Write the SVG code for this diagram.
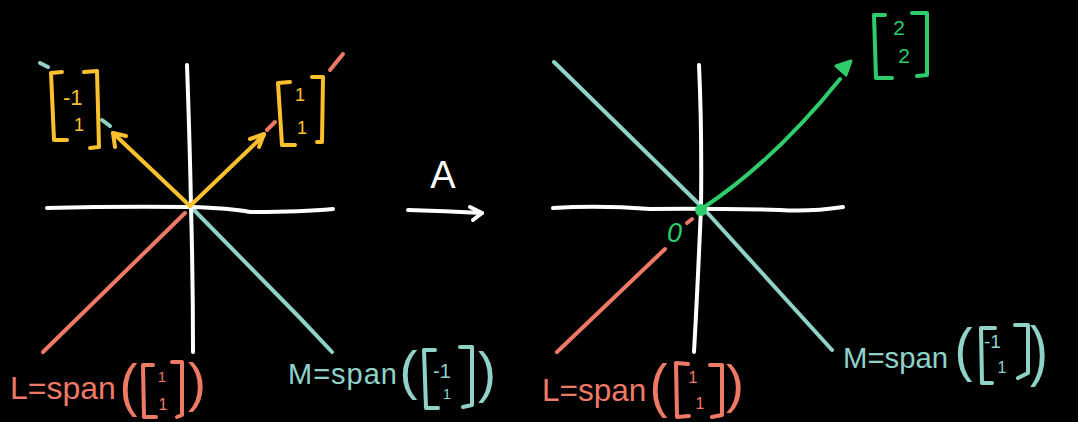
<svg xmlns="http://www.w3.org/2000/svg" width="1078" height="422" viewBox="0 0 1078 422">
<style>
.s{fill:none;stroke-linecap:round;stroke-linejoin:round;stroke-width:4}
.w{stroke:#ffffff}
.y{stroke:#fbc02d}
.r{stroke:#ee7a66}
.t{stroke:#8fd3c8}
.g{stroke:#2ecc6b}
.tx{font-family:"Liberation Sans","DejaVu Sans",sans-serif}
.p{font-family:"Liberation Sans","DejaVu Sans",sans-serif;font-size:40px}
.fy{fill:#fbc02d}.fr{fill:#ee7a66}.ft{fill:#8fd3c8}.fg{fill:#2ecc6b}.fw{fill:#ffffff}
</style>
<rect width="1078" height="422" fill="#000"/>

<g id="left-plot">
  <path class="s r" d="M185,213 L43,352"/>
  <path class="s r" d="M267,130 L275,122 M330,70 L343,54"/>
  <path class="s t" d="M193,209 L300,318 L332,352"/>
  <path class="s t" d="M40,63 L48,67 M102,120 L110,126"/>
  <path class="s w" d="M47,208 Q120,206 190,207 Q230,208 250,212 Q300,212 333,209"/>
  <path class="s w" d="M187,65 Q190,150 191,207 Q193,280 193,352"/>
</g>

<g id="right-plot">
  <path class="s t" d="M554,62 L703,208 L832,350"/>
  <path class="s r" d="M665,249 L557,352"/>
  <path class="s r" d="M687,223 L692,219"/>
  <path class="s w" d="M553,208 Q600,205 650,209 Q700,208 780,210 Q810,212 843,207"/>
  <path class="s w" d="M699,65 Q702,130 701,208 Q697,300 694,352"/>
  <circle cx="701" cy="210" r="6" class="fg"/>
</g>

<g id="connectors">
  <g id="vec-neg">
    <path class="s y" d="M190,206 L113,133"/>
    <path class="s y" d="M115,147 L113,133 L126,136"/>
  </g>
  <g id="vec-pos">
    <path class="s y" d="M190,206 L264,135"/>
    <path class="s y" d="M250,139 L264,134 L259,147"/>
  </g>
  <g id="map-A">
    <path class="s w" d="M408,210 Q445,211 482,213"/>
    <path class="s w" d="M470,207 L482,213 L473,220"/>
  </g>
  <g id="vec-image">
    <path class="s g" d="M703,208 Q775,160 840,79"/>
    <path class="g fg" stroke-width="3" stroke-linejoin="round" d="M836,66 L851,61 L846,75 Z"/>
  </g>
</g>

<g id="matrix-neg">
  <path class="s y" d="M62,72 L51,73 L54,140 L67,140"/>
  <path class="s y" d="M84,72 L97,71 L99,147 L90,148"/>
  <text class="tx fy" x="63" y="105" font-size="22">-1</text>
  <text class="tx fy" x="79" y="131" font-size="18" text-anchor="middle">1</text>
</g>

<g id="matrix-pos">
  <path class="s y" d="M290,82 L278,83 L282,145 L295,145"/>
  <path class="s y" d="M312,77 L323,77 L322,142 L317,142"/>
  <text class="tx fy" x="300" y="101" font-size="18" text-anchor="middle">1</text>
  <text class="tx fy" x="302" y="134" font-size="18" text-anchor="middle">1</text>
</g>

<g id="matrix-image">
  <path class="s g" d="M885,15 L874,15 L876,78 L892,78"/>
  <path class="s g" d="M912,13 L927,13 L927,75 L917,76"/>
  <text class="tx fg" x="899" y="35" font-size="21" text-anchor="middle">2</text>
  <text class="tx fg" x="904" y="63" font-size="21" text-anchor="middle">2</text>
</g>

<g id="label-A">
  <text class="tx fw" x="443" y="188" font-size="38" text-anchor="middle">A</text>
</g>

<g id="label-zero">
  <text class="tx fg" x="667" y="242" font-size="27" font-style="italic">0</text>
</g>

<g id="label-L-left">
  <text class="tx fr" x="10" y="399" font-size="32">L=span</text>
  <text class="p fr" transform="translate(119.5,405) scale(1.35,1.44)">(</text>
  <path class="s r" d="M153,365 L143,365 L144,417 L156,417"/>
  <text class="tx fr" x="162" y="382" font-size="15" text-anchor="middle">1</text>
  <text class="tx fr" x="163" y="410" font-size="16" text-anchor="middle">1</text>
  <path class="s r" d="M172,362 L182,362 L182,415 L177,417"/>
  <text class="p fr" transform="translate(188,400.5) scale(1.35,1.33)">)</text>
</g>

<g id="label-M-left">
  <text class="tx ft" x="288" y="384" font-size="29" letter-spacing="1">M=span</text>
  <text class="p ft" transform="translate(399.5,388.7) scale(1.35,1.33)">(</text>
  <path class="s t" d="M435,350 L424,350 L426,408 L438,408"/>
  <text class="tx ft" x="433" y="378" font-size="20">-1</text>
  <text class="tx ft" x="447" y="399" font-size="15" text-anchor="middle">1</text>
  <path class="s t" d="M460,347 L472,347 L472,405 L463,407"/>
  <text class="p ft" transform="translate(478,391) scale(1.35,1.41)">)</text>
</g>

<g id="label-L-right">
  <text class="tx fr" x="542" y="401" font-size="31.5">L=span</text>
  <text class="p fr" transform="translate(649.5,405.8) scale(1.35,1.47)">(</text>
  <path class="s r" d="M688,364 L676,363 L677,417 L689,416"/>
  <text class="tx fr" x="693" y="383" font-size="16" text-anchor="middle">1</text>
  <text class="tx fr" x="700" y="409" font-size="16" text-anchor="middle">1</text>
  <path class="s r" d="M710,365 L722,365 L722,415 L712,417"/>
  <text class="p fr" transform="translate(726,402.3) scale(1.35,1.28)">)</text>
</g>

<g id="label-M-right">
  <text class="tx ft" x="843" y="368" font-size="29.3">M=span</text>
  <text class="p ft" transform="translate(954.5,370.4) scale(1.35,1.49)">(</text>
  <path class="s t" d="M995,328 L981,328 L982,383 L992,383"/>
  <text class="tx ft" x="984" y="348" font-size="19">-1</text>
  <text class="tx ft" x="1002" y="373" font-size="16" text-anchor="middle">1</text>
  <path class="s t" d="M1015,325 L1028,325 L1028,373 L1018,378"/>
  <text class="p ft" transform="translate(1030,373) scale(1.35,1.65)">)</text>
</g>
</svg>
